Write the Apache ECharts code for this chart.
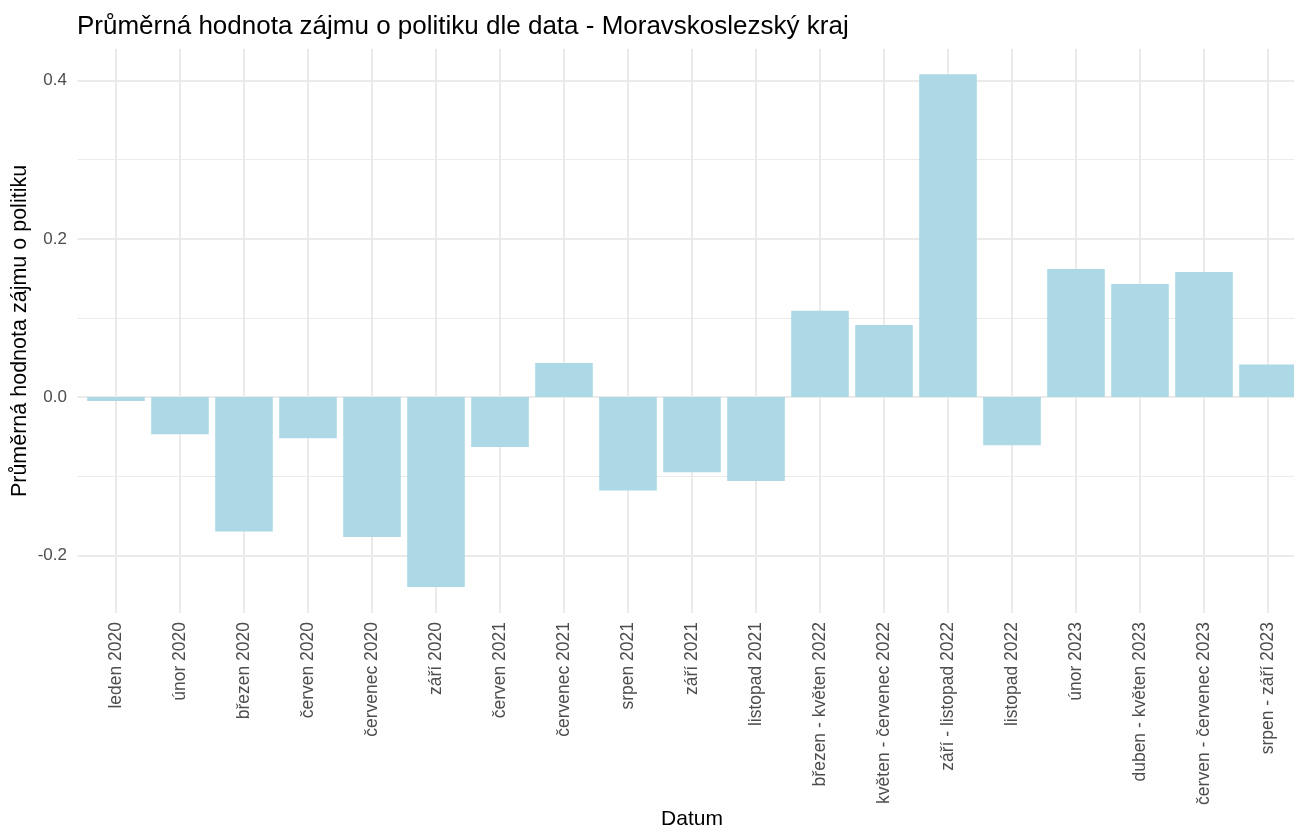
<!DOCTYPE html>
<html>
<head>
<meta charset="utf-8">
<script src="https://cdn.jsdelivr.net/npm/echarts@6/dist/echarts.min.js"></script>
<style>
  html, body { margin: 0; padding: 0; background: #fff; }
  #chart { width: 1294px; height: 827px; }
</style>
</head>
<body>
<div id="chart"></div>
<script>
// kategorie na ose x
const categories = [
  'leden 2020', 'únor 2020', 'březen 2020', 'červen 2020', 'červenec 2020',
  'září 2020', 'červen 2021', 'červenec 2021', 'srpen 2021', 'září 2021',
  'listopad 2021', 'březen - květen 2022', 'květen - červenec 2022',
  'září - listopad 2022', 'listopad 2022', 'únor 2023', 'duben - květen 2023',
  'červen - červenec 2023', 'srpen - září 2023'
]

// průměrná hodnota zájmu o politiku
const values = [
  -0.005, -0.047, -0.170, -0.052, -0.177,
  -0.240, -0.063, 0.043, -0.118, -0.095,
  -0.106, 0.109, 0.091,
  0.408, -0.061, 0.162, 0.143,
  0.158, 0.041
]

const yMin = -0.273
const yMax = 0.44

const font = 'Liberation Sans, Arial, Helvetica, sans-serif'
const gridColor = '#EBEBEB'

const chart = echarts.init(document.getElementById('chart'))

const option = {
  animation: false,
  backgroundColor: '#ffffff',
  title: {
    text: 'Průměrná hodnota zájmu o politiku dle data - Moravskoslezský kraj',
    left: 72,
    top: 9,
    textStyle: { fontFamily: font, fontSize: 26, fontWeight: 'normal', color: '#000' }
  },
  grid: [
    // hlavní panel se sloupci
    { left: 84, top: 49, width: 1216, height: 564, containLabel: false, outerBoundsMode: 'none' },
    // pozadí s vodorovnými mřížkami (širší kvůli expanzi osy)
    { left: 77.6, top: 49, width: 1228.8, height: 564, containLabel: false, outerBoundsMode: 'none' }
  ],
  xAxis: [
    {
      type: 'category',
      gridIndex: 0,
      data: categories,
      name: 'Datum',
      nameLocation: 'middle',
      nameGap: 196,
      nameMoveOverlap: false,
      nameTextStyle: { fontFamily: font, fontSize: 21, color: '#000' },
      axisLine: { show: false },
      axisTick: { show: false },
      axisLabel: {
        rotate: 90,
        interval: 0,
        margin: 9,
        fontFamily: font,
        fontSize: 17.5,
        color: '#4D4D4D'
      },
      splitLine: {
        show: true,
        alignWithLabel: true,
        lineStyle: { color: gridColor, width: 2 }
      }
    },
    {
      type: 'value',
      gridIndex: 1,
      min: 0,
      max: 1,
      show: false
    }
  ],
  yAxis: [
    {
      type: 'value',
      gridIndex: 0,
      min: yMin,
      max: yMax,
      splitNumber: 4,
      name: 'Průměrná hodnota zájmu o politiku',
      nameLocation: 'middle',
      nameGap: 53,
      nameMoveOverlap: false,
      nameTextStyle: { fontFamily: font, fontSize: 21.5, color: '#000' },
      axisLine: { show: false },
      axisTick: { show: false },
      splitLine: { show: false },
      axisLabel: {
        margin: 17,
        fontFamily: font,
        fontSize: 17,
        color: '#4D4D4D',
        showMinLabel: false,
        showMaxLabel: false,
        formatter: (v) => v.toFixed(1)
      }
    },
    {
      // hlavní vodorovné čáry (0.2)
      type: 'value',
      gridIndex: 1,
      min: yMin,
      max: yMax,
      splitNumber: 4,
      axisLine: { show: false },
      axisTick: { show: false },
      axisLabel: { show: false },
      splitLine: {
        show: true,
        showMinLine: false,
        showMaxLine: false,
        lineStyle: { color: gridColor, width: 2 }
      }
    },
    {
      // vedlejší vodorovné čáry (0.1)
      type: 'value',
      gridIndex: 1,
      position: 'right',
      min: yMin,
      max: yMax,
      splitNumber: 7,
      axisLine: { show: false },
      axisTick: { show: false },
      axisLabel: { show: false },
      splitLine: {
        show: true,
        showMinLine: false,
        showMaxLine: false,
        lineStyle: { color: gridColor, width: 1 }
      }
    }
  ],
  series: [
    {
      type: 'bar',
      xAxisIndex: 0,
      yAxisIndex: 0,
      data: values,
      barWidth: '90%',
      itemStyle: { color: '#ADD8E6' },
      z: 3
    }
  ]
}

chart.setOption(option)
</script>
</body>
</html>
